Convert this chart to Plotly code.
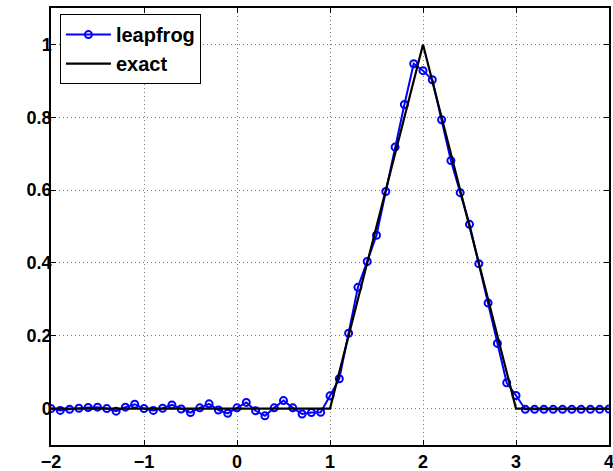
import plotly.graph_objects as go

# leapfrog numerical solution, x = -2.0 ... 4.0 step 0.1
x_leap = [round(-2.0 + 0.1 * i, 1) for i in range(61)]
y_leap = [
    0.000, -0.005, -0.002, 0.001, 0.003, 0.004, 0.000, -0.007, 0.004, 0.012,   # -2.0 .. -1.1
    0.000, -0.005, 0.001, 0.010, -0.001, -0.011, 0.002, 0.013, -0.004, -0.013,  # -1.0 .. -0.1
    0.002, 0.017, -0.006, -0.020, 0.002, 0.022, 0.002, -0.015, -0.011, -0.010,  # 0.0 .. 0.9
    0.035, 0.082, 0.207, 0.333, 0.404, 0.476, 0.596, 0.718, 0.835, 0.947,       # 1.0 .. 1.9
    0.928, 0.903, 0.793, 0.681, 0.593, 0.506, 0.398, 0.290, 0.179, 0.071,       # 2.0 .. 2.9
    0.036, -0.002, -0.002, -0.002, -0.002, -0.002, -0.002, -0.002, -0.002, -0.002,  # 3.0 .. 3.9
    -0.001,                                                                       # 4.0
]

# exact solution (triangle pulse)
x_exact = [-2, 1, 2, 3, 4]
y_exact = [0, 0, 1, 0, 0]

x_ticks = [-2, -1, 0, 1, 2, 3, 4]
x_tick_text = ["\u22122", "\u22121", "0", "1", "2", "3", "4"]
y_ticks = [0, 0.2, 0.4, 0.6, 0.8, 1]
y_tick_text = ["0", "0.2", "0.4", "0.6", "0.8", "1"]

fig = go.Figure()
fig.add_trace(go.Scatter(
    x=x_leap, y=y_leap, name="leapfrog", mode="lines+markers",
    line=dict(color="#0000ff", width=2),
    marker=dict(symbol="circle-open", size=7, color="#0000ff", line=dict(width=2)),
))
fig.add_trace(go.Scatter(
    x=x_exact, y=y_exact, name="exact", mode="lines",
    line=dict(color="#000000", width=2.2),
))

axis_common = dict(
    showline=True, linecolor="black", linewidth=1.5, mirror="ticks",
    ticks="inside", ticklen=5, tickcolor="black", tickwidth=1,
    showgrid=True, gridcolor="#7a7a7a", griddash="1px,3px", gridwidth=1,
    zeroline=False, automargin=False, ticklabeloverflow="allow",
    tickfont=dict(family="Liberation Sans", size=18, color="black", weight="bold"),
)

fig.update_xaxes(range=[-2, 4], tickvals=x_ticks, ticktext=x_tick_text, **axis_common)
fig.update_yaxes(range=[-0.1, 1.1], tickvals=y_ticks, ticktext=y_tick_text,
                 ticklabelstandoff=-6, **axis_common)

fig.update_layout(
    width=613, height=471,
    margin=dict(l=51, r=4, t=8, b=26, pad=0, autoexpand=False),
    paper_bgcolor="white", plot_bgcolor="white",
    showlegend=True,
    legend=dict(
        x=0.016, y=0.986, xanchor="left", yanchor="top",
        bgcolor="white", bordercolor="black", borderwidth=1,
        font=dict(family="Liberation Sans", size=20, color="black", weight="bold"),
        tracegroupgap=0, itemwidth=45,
    ),
)

fig.write_html(
    "out.html",
    config={"displayModeBar": False},
    post_script="document.body.style.margin='0';document.body.style.overflow='hidden';",
)
